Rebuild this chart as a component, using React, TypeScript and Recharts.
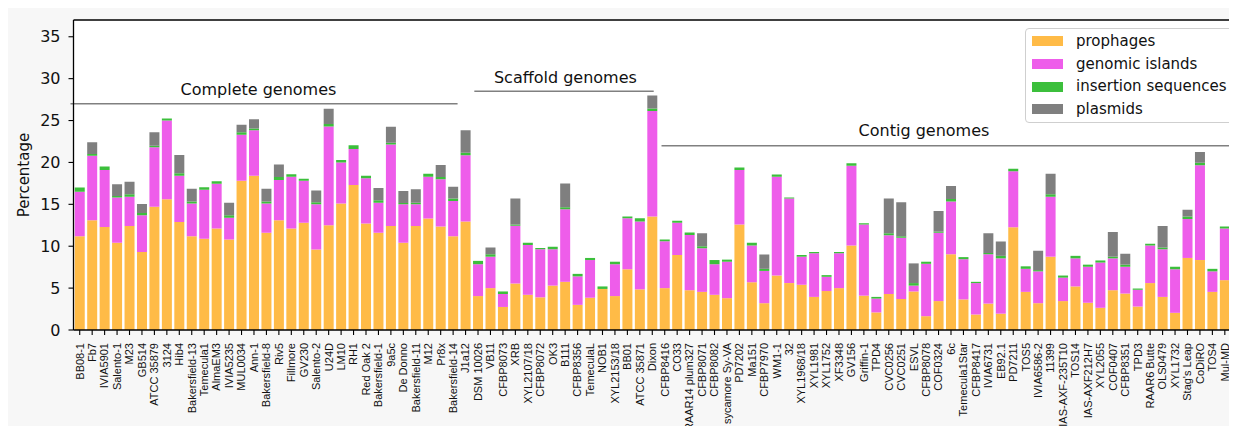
import React from 'react';
import {
  BarChart, Bar, XAxis, YAxis, CartesianGrid, Legend, ReferenceLine, ReferenceDot, Label,
} from 'recharts';

const categories = [
  'BB08-1', 'Fb7', 'IVIA5901', 'Salento-1', 'M23', 'GB514', 'ATCC 35879', '3124', 'Hib4', 'Bakersfield-13',
  'Temecula1', 'AlmaEM3', 'IVIA5235', 'MUL0034', 'Ann-1', 'Bakersfield-8', 'Riv5', 'Fillmore', 'GV230', 'Salento-2',
  'U24D', 'LM10', 'RH1', 'Red Oak 2', 'Bakersfield-1', '9a5c', 'De Donno', 'Bakersfield-11', 'M12', 'Pr8x',
  'Bakersfield-14', 'J1a12', 'DSM 10026', 'VB11', 'CFBP8073', 'XRB', 'XYL2107/18', 'CFBP8072', 'OK3', 'B111',
  'CFBP8356', 'TemeculaL', 'NOB1', 'XYL2153/18', 'BB01', 'ATCC 35871', 'Dixon', 'CFBP8416', 'CO33', 'RAAR14 plum327',
  'CFBP8071', 'CFBP8082', 'sycamore Sy-VA', 'PD7202', 'Ma151', 'CFBP7970', 'WM1-1', '32', 'XYL1968/18', 'XYL1981',
  'XYL1752', 'XF3348', 'GV156', 'Griffin-1', 'TPD4', 'CVC0256', 'CVC0251', 'ESVL', 'CFBP8078', 'COF0324',
  '6c', 'Temecula1Star', 'CFBP8417', 'IVIA6731', 'EB92.1', 'PD7211', 'TOS5', 'IVIA6586-2', '11399', 'IAS-AXF-235T10',
  'TOS14', 'IAS-AXF212H7', 'XYL2055', 'COF0407', 'CFBP8351', 'TPD3', 'RAAR6 Butte', 'OLS0479', 'XYL1732', "Stag's Leap",
  'CoDiRO', 'TOS4', 'Mul-MD', 'OLS0478',
];

const prophages = [
  11.2, 13.1, 12.3, 10.4, 12.4, 9.3, 14.7, 15.6, 12.9, 11.2,
  10.9, 12.1, 10.8, 17.8, 18.4, 11.6, 13.1, 12.1, 12.8, 9.6,
  12.5, 15.1, 17.3, 12.7, 11.6, 12.4, 10.4, 12.4, 13.3, 12.35,
  11.2, 12.95, 4.05, 5.0, 2.75, 5.55, 4.2, 3.9, 5.3, 5.75,
  3.0, 3.85, 4.9, 4.05, 7.25, 4.85, 13.55, 5.0, 8.95, 4.75,
  4.55, 4.2, 3.8, 12.6, 5.7, 3.2, 6.5, 5.6, 5.4, 3.95,
  4.65, 5.0, 10.1, 4.1, 2.1, 4.3, 3.7, 4.6, 1.65, 3.45,
  9.05, 3.65, 1.85, 3.15, 1.95, 12.25, 4.55, 3.2, 8.75, 3.45,
  5.2, 3.25, 2.65, 4.75, 4.35, 2.8, 5.6, 3.95, 2.05, 8.6,
  8.35, 4.55, 5.95, 5.4,
];

const genomicIslands = [
  5.3, 7.7, 6.8, 5.4, 3.5, 4.4, 7.1, 9.4, 5.5, 3.9,
  5.85, 5.35, 2.6, 5.5, 5.45, 3.5, 4.8, 6.2, 5.0, 5.4,
  11.8, 4.9, 4.3, 5.4, 3.6, 9.75, 4.6, 2.6, 5.0, 5.65,
  4.2, 7.9, 3.8, 3.75, 1.55, 6.9, 5.95, 5.75, 4.35, 8.65,
  3.4, 4.5, 0, 3.8, 6.1, 8.1, 12.6, 5.6, 3.85, 6.6,
  5.2, 3.65, 4.35, 6.5, 4.4, 3.85, 11.8, 10.1, 3.35, 5.2,
  1.7, 4.15, 9.5, 8.5, 1.65, 7.0, 7.3, 0.7, 6.25, 8.15,
  6.3, 4.8, 3.75, 5.9, 6.6, 6.7, 2.75, 3.8, 7.15, 2.8,
  3.35, 4.3, 5.4, 3.8, 3.2, 2.0, 4.5, 5.7, 5.2, 4.65,
  11.3, 2.45, 6.15, 6.65,
];

const insertionSequences = [
  0.5, 0.2, 0.4, 0.2, 0.3, 0.25, 0.2, 0.25, 0.3, 0.25,
  0.3, 0.3, 0.3, 0.3, 0.2, 0.25, 0.35, 0.3, 0.25, 0.25,
  0.3, 0.3, 0.45, 0.3, 0.3, 0.2, 0.15, 0.2, 0.35, 0.25,
  0.3, 0.3, 0.4, 0.3, 0.3, 0.15, 0.25, 0.15, 0.3, 0.25,
  0.3, 0.25, 0.3, 0.3, 0.2, 0.4, 0.3, 0.2, 0.25, 0.3,
  0.25, 0.5, 0.25, 0.3, 0.3, 0.25, 0.25, 0.1, 0.2, 0.15,
  0.2, 0.15, 0.3, 0.15, 0.2, 0.25, 0.2, 0.3, 0.25, 0.15,
  0.3, 0.25, 0.15, 0.15, 0.3, 0.3, 0.3, 0.15, 0.3, 0.25,
  0.3, 0.25, 0.25, 0.2, 0.25, 0.15, 0.2, 0.2, 0.3, 0.3,
  0.3, 0.3, 0.25, 0.2,
];

const plasmids = [
  0, 1.4, 0, 1.4, 1.5, 1.1, 1.6, 0, 2.2, 1.5,
  0, 0, 1.5, 0.9, 1.1, 1.5, 1.5, 0, 0, 1.4,
  1.8, 0, 0, 0, 1.45, 1.9, 1.45, 1.6, 0, 1.45,
  1.4, 2.7, 0, 0.8, 0, 3.1, 0, 0, 0, 2.85,
  0, 0, 0, 0, 0, 0, 1.55, 0, 0, 0,
  1.55, 0, 0, 0, 0, 1.7, 0, 0, 0, 0,
  0, 0, 0, 0, 0, 4.15, 4.05, 2.35, 0, 2.45,
  1.55, 0, 0, 2.35, 1.7, 0, 0, 2.3, 2.45, 0,
  0, 0, 0, 2.95, 1.3, 0, 0, 2.55, 0, 0.8,
  1.3, 0, 0, 2.75,
];

const yTicks = [0, 5, 10, 15, 20, 25, 30, 35];

const seriesNames = ['prophages', 'genomic islands', 'insertion sequences', 'plasmids'];
const seriesKeys = ['prophages', 'genomicIslands', 'insertionSequences', 'plasmids'];
const seriesColors = ['#FFBB47', '#EE5DEA', '#3CBF3C', '#7F7F7F'];

// group annotations: [label, line start idx, line end idx, line y, text idx, text y]
const groupLabels = ['Complete genomes', 'Scaffold genomes', 'Contig genomes'];
const groupLineStart = [-0.24, 31.86, 46.74];
const groupLineEnd = [30.53, 46.12, 93.5];
const groupLineY = [27.0, 28.5, 22.0];
const groupTextX = [14.7, 39.1, 67.6];
const groupTextY = [28.7, 30.1, 23.8];

const data = categories.map((name, i) => ({
  name,
  prophages: prophages[i],
  genomicIslands: genomicIslands[i],
  insertionSequences: insertionSequences[i],
  plasmids: plasmids[i],
}));

const XTick = (props: any) => {
  const { x, y, payload } = props;
  return (
    <g transform={`translate(${x},${y})`}>
      <text
        x={0}
        y={0}
        dy="0.35em"
        transform="rotate(-90)"
        textAnchor="end"
        fontFamily="'Liberation Sans', Arial, sans-serif"
        fontSize={11}
        fill="#111"
      >
        {payload.value}
      </text>
    </g>
  );
};

const renderLegend = () => (
  <div
    style={{
      boxSizing: 'border-box',
      width: 210,
      height: 95,
      border: '1px solid #cfcfcf',
      borderRadius: 4,
      background: 'rgba(255,255,255,0.85)',
      paddingTop: 1,
      fontFamily: "'DejaVu Sans', sans-serif",
      fontSize: 15,
      color: '#111',
    }}
  >
    {seriesNames.map((n, i) => (
      <div key={n} style={{ height: 22.7, display: 'flex', alignItems: 'center' }}>
        <div style={{ width: 31, height: 10, marginLeft: 6, background: seriesColors[i] }} />
        <span style={{ marginLeft: 13, lineHeight: '15px' }}>{n}</span>
      </div>
    ))}
  </div>
);

export default function App() {
  return (
    <div
      style={{
        width: 1229,
        height: 426,
        overflow: 'hidden',
        background: '#f7f7f7',
        marginBottom: -8,
      }}
    >
      <BarChart
        width={1240}
        height={426}
        data={data}
        margin={{ top: 12, right: 4.5, bottom: 0, left: 10.5 }}
        barCategoryGap="10%"
      >
        <CartesianGrid horizontal={false} vertical={false} fill="#ffffff" />
        <XAxis
          dataKey="name"
          type="category"
          interval={0}
          height={104}
          tick={<XTick />}
          tickSize={5}
          tickMargin={8}
          axisLine={{ stroke: '#000', strokeWidth: 1.3 }}
          tickLine={{ stroke: '#000', strokeWidth: 1.1 }}
        />
        <XAxis xAxisId="idx" type="number" domain={[-0.5, categories.length - 0.5]} hide allowDataOverflow />
        <YAxis
          type="number"
          domain={[0, 37]}
          ticks={yTicks}
          width={55}
          tickSize={5}
          tickMargin={8}
          allowDataOverflow
          axisLine={{ stroke: '#000', strokeWidth: 1.3 }}
          tickLine={{ stroke: '#000', strokeWidth: 1.1 }}
          tick={{ fontFamily: "'DejaVu Sans', sans-serif", fontSize: 16, fill: '#111' }}
        >
          <Label
            content={(p: any) => {
              const vb = p.viewBox || { x: 10.5, y: 12, width: 55, height: 310 };
              const cx = vb.x + 10.5;
              const cy = vb.y + vb.height / 2;
              return (
                <text
                  x={cx}
                  y={cy}
                  transform={`rotate(-90, ${cx}, ${cy})`}
                  textAnchor="middle"
                  fontFamily="'DejaVu Sans', sans-serif"
                  fontSize={15}
                  fill="#111"
                >
                  Percentage
                </text>
              );
            }}
          />
        </YAxis>
        <ReferenceLine y={37} stroke="#000" strokeWidth={1.3} />
        {seriesKeys.map((k, i) => (
          <Bar
            key={k}
            dataKey={k}
            name={seriesNames[i]}
            stackId="a"
            fill={seriesColors[i]}
            isAnimationActive={false}
          />
        ))}
        {groupLabels.map((g, i) => (
          <ReferenceLine
            key={`l-${g}`}
            xAxisId="idx"
            segment={[
              { x: groupLineStart[i], y: groupLineY[i] },
              { x: groupLineEnd[i], y: groupLineY[i] },
            ]}
            stroke="#808080"
            strokeWidth={1.5}
            ifOverflow="visible"
          />
        ))}
        {groupLabels.map((g, i) => (
          <ReferenceDot
            key={`t-${g}`}
            xAxisId="idx"
            x={groupTextX[i]}
            y={groupTextY[i]}
            r={1}
            fill="none"
            stroke="none"
            ifOverflow="visible"
            label={{
              value: g,
              position: 'center',
              fontFamily: "'DejaVu Sans', sans-serif",
              fontSize: 16,
              fill: '#111',
            }}
          />
        ))}
        <Legend
          layout="vertical"
          align="center"
          verticalAlign="middle"
          content={renderLegend}
          wrapperStyle={{ position: 'absolute', left: 1017, top: 20, width: 210, height: 95 }}
        />
      </BarChart>
    </div>
  );
}
